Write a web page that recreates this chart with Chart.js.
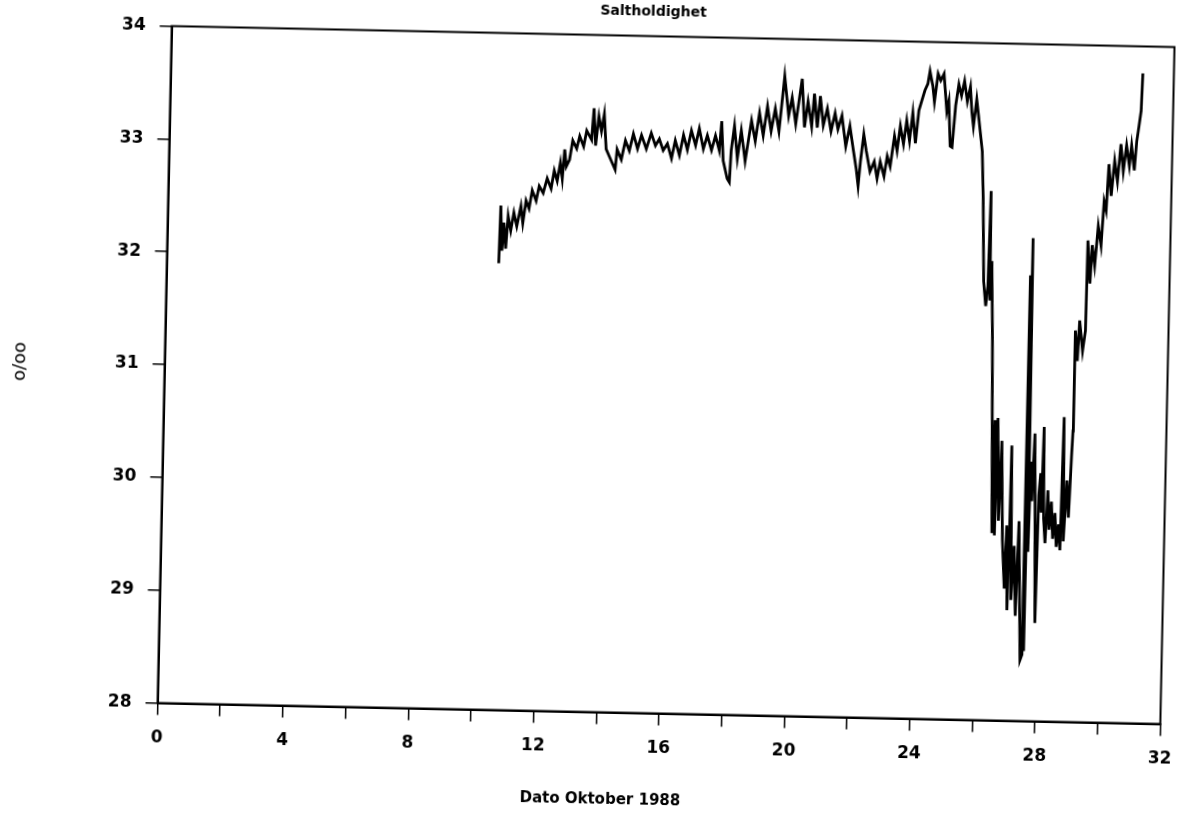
<!DOCTYPE html>
<html lang="no">
<head>
<meta charset="UTF-8">
<title>Saltholdighet</title>
<script src="https://cdn.jsdelivr.net/npm/chart.js"></script>
<style>
  html, body { margin: 0; padding: 0; background: #fff; overflow: hidden; }
  /* the scanned original is tilted by about a degree */
  #wrap { position: absolute; left: 0; top: 0; width: 1179px; height: 813px;
          transform: rotate(1.2deg); transform-origin: 666px 375px; }
</style>
</head>
<body>
<div id="wrap"><canvas id="saltChart" width="1179" height="813"></canvas></div>
<script>
const chartTitle = 'Saltholdighet';
const xTitle = 'Dato Oktober 1988';
const yTitle = 'o/oo';
const xLabelValues = [0, 4, 8, 12, 16, 20, 24, 28, 32];

// day of October 1988
const days = [
  10.59, 10.62, 10.68, 10.73, 10.80, 10.86, 10.95, 11.04, 11.14, 11.26, 11.33, 11.42, 11.52, 11.61, 11.74, 11.83,
  11.96, 12.08, 12.21, 12.30, 12.40, 12.49, 12.56, 12.62, 12.68, 12.78, 12.87, 13.00, 13.09, 13.22, 13.31, 13.47,
  13.53, 13.60, 13.69, 13.78, 13.86, 13.94, 14.04, 14.14, 14.24, 14.29, 14.43, 14.55, 14.68, 14.80, 14.94, 15.06,
  15.22, 15.37, 15.51, 15.63, 15.76, 15.89, 16.03, 16.14, 16.28, 16.40, 16.53, 16.65, 16.79, 16.90, 17.04, 17.16,
  17.30, 17.42, 17.55, 17.61, 17.68, 17.82, 17.89, 17.93, 18.02, 18.13, 18.24, 18.38, 18.47, 18.56, 18.69, 18.81,
  18.94, 19.06, 19.19, 19.31, 19.44, 19.59, 19.74, 19.84, 19.97, 20.06, 20.15, 20.25, 20.35, 20.48, 20.55, 20.66,
  20.74, 20.85, 20.97, 21.10, 21.22, 21.32, 21.44, 21.58, 21.70, 21.83, 21.93, 22.00, 22.06, 22.15, 22.24, 22.37,
  22.50, 22.60, 22.69, 22.82, 22.91, 23.01, 23.13, 23.22, 23.31, 23.42, 23.51, 23.61, 23.70, 23.80, 23.89, 23.98,
  24.07, 24.16, 24.22, 24.32, 24.38, 24.48, 24.57, 24.67, 24.78, 24.84, 24.91, 24.97, 25.06, 25.15, 25.24, 25.33,
  25.43, 25.52, 25.58, 25.64, 25.73, 25.80, 25.94, 26.00, 26.07, 26.15, 26.21, 26.25, 26.28, 26.32, 26.39, 26.43,
  26.50, 26.53, 26.58, 26.62, 26.70, 26.76, 26.84, 26.93, 26.97, 27.03, 27.06, 27.08, 27.15, 27.22, 27.30, 27.36,
  27.48, 27.54, 27.56, 27.59, 27.62, 27.66, 27.70, 27.75, 27.81, 27.86, 27.93, 27.97, 28.02, 28.06, 28.10, 28.14,
  28.20, 28.26, 28.32, 28.38, 28.44, 28.50, 28.56, 28.62, 28.68, 28.73, 28.78, 28.86, 28.93, 28.99, 29.02, 29.03,
  29.11, 29.16, 29.27, 29.35, 29.37, 29.46, 29.51, 29.60, 29.69, 29.79, 29.86, 29.93, 29.99, 30.08, 30.17, 30.27,
  30.36, 30.45, 30.54, 30.64, 30.70, 30.80, 30.86, 30.92, 30.98, 31.01
];

// salinity, o/oo
const salinity = [
  31.96, 32.47, 32.07, 32.32, 32.09, 32.38, 32.25, 32.41, 32.29, 32.47, 32.32, 32.52, 32.45, 32.61, 32.52, 32.65,
  32.59, 32.72, 32.63, 32.79, 32.70, 32.86, 32.72, 32.98, 32.83, 32.89, 33.06, 32.99, 33.10, 33.01, 33.15, 33.07,
  33.35, 33.02, 33.28, 33.15, 33.30, 32.99, 32.93, 32.87, 32.81, 32.99, 32.90, 33.07, 32.98, 33.13, 33.00, 33.12,
  33.00, 33.14, 33.03, 33.09, 32.99, 33.05, 32.92, 33.08, 32.95, 33.13, 33.00, 33.17, 33.04, 33.19, 33.01, 33.13,
  33.00, 33.13, 33.00, 33.26, 32.91, 32.75, 32.72, 33.00, 33.22, 32.93, 33.18, 32.91, 33.09, 33.27, 33.09, 33.34,
  33.14, 33.40, 33.18, 33.38, 33.18, 33.67, 33.32, 33.48, 33.25, 33.45, 33.65, 33.22, 33.45, 33.23, 33.52, 33.22,
  33.50, 33.24, 33.39, 33.19, 33.35, 33.21, 33.33, 33.06, 33.24, 33.02, 32.86, 32.71, 32.93, 33.17, 33.02, 32.84,
  32.93, 32.78, 32.93, 32.80, 32.98, 32.89, 33.16, 33.03, 33.25, 33.09, 33.30, 33.12, 33.37, 33.10, 33.39, 33.48,
  33.57, 33.63, 33.74, 33.61, 33.47, 33.72, 33.66, 33.72, 33.39, 33.48, 33.08, 33.07, 33.44, 33.63, 33.53, 33.66,
  33.48, 33.61, 33.39, 33.26, 33.50, 33.35, 33.04, 32.63, 31.89, 31.67, 31.85, 32.69, 31.72, 32.07, 31.37, 30.75,
  29.66, 30.66, 29.64, 30.68, 29.77, 30.48, 29.60, 29.17, 29.73, 28.98, 29.60, 30.44, 29.07, 29.55, 28.93, 29.77,
  28.54, 28.59, 31.95, 28.62, 32.28, 29.50, 30.30, 29.95, 30.55, 29.90, 28.87, 30.00, 30.20, 29.85, 30.61, 29.80,
  29.58, 30.05, 29.70, 29.95, 29.62, 29.85, 29.55, 29.75, 29.52, 30.70, 29.60, 30.14, 29.81, 30.35, 30.58, 31.47,
  31.20, 31.56, 31.29, 31.47, 32.27, 31.89, 32.23, 32.05, 32.40, 32.23, 32.62, 32.54, 32.95, 32.67, 32.98, 32.80,
  33.13, 32.89, 33.12, 32.94, 33.12, 32.90, 33.16, 33.29, 33.43, 33.76
];

const tickFont = { family: '"DejaVu Sans", sans-serif', size: 17, weight: 'bold' };

// box round the plot plus the two free-standing titles
const frameAndTitles = {
  id: 'frameAndTitles',
  afterDraw(chart) {
    const { ctx, chartArea: a } = chart;
    const w = a.right - a.left;
    ctx.save();
    ctx.strokeStyle = '#000';
    ctx.lineWidth = 2;
    ctx.strokeRect(a.left, a.top, w, a.bottom - a.top);
    ctx.fillStyle = '#000';
    ctx.textAlign = 'center';
    ctx.textBaseline = 'middle';
    ctx.font = 'bold 14px "DejaVu Sans", sans-serif';
    ctx.fillText(chartTitle, a.left + 0.48 * w, a.top - 24);
    ctx.font = 'bold 15px "DejaVu Sans", sans-serif';
    ctx.fillText(xTitle, a.left + 0.443 * w, a.bottom + 88);
    ctx.restore();
  }
};

new Chart(document.getElementById('saltChart'), {
  type: 'line',
  data: {
    datasets: [{
      data: days.map((d, i) => ({ x: d, y: salinity[i] })),
      borderColor: '#000',
      borderWidth: 2.8,
      pointRadius: 0,
      tension: 0,
      fill: false
    }]
  },
  options: {
    responsive: false,
    animation: false,
    layout: { padding: { top: 36.5, right: 11.5, left: 0, bottom: 0 } },
    plugins: { legend: { display: false }, title: { display: false }, tooltip: { enabled: false } },
    scales: {
      x: {
        type: 'linear',
        min: 0,
        max: 32,
        afterFit(scale) {
          scale.height = 99.5;
          // keep the "32" label from pulling the plot in
          scale.paddingLeft = 0;
          scale.paddingRight = 0;
        },
        border: { display: true, color: '#000', width: 2 },
        grid: { drawOnChartArea: false, drawTicks: true, tickLength: 12, color: '#000', lineWidth: 1.5 },
        ticks: {
          stepSize: 2,
          autoSkip: false,
          maxRotation: 0,
          padding: 13,
          color: '#000',
          font: tickFont,
          callback: v => xLabelValues.includes(v) ? String(v) : ''
        }
      },
      y: {
        min: 28,
        max: 34,
        afterFit(scale) { scale.width = 164.5; },
        border: { display: true, color: '#000', width: 2 },
        grid: { drawOnChartArea: false, drawTicks: true, tickLength: 12, color: '#000', lineWidth: 1.5 },
        ticks: { stepSize: 1, padding: 14, color: '#000', font: tickFont },
        title: { display: true, text: yTitle, color: '#000', font: { family: '"DejaVu Sans", sans-serif', size: 18 }, padding: { top: 10, bottom: 0 } }
      }
    }
  },
  plugins: [frameAndTitles]
});
</script>
</body>
</html>
